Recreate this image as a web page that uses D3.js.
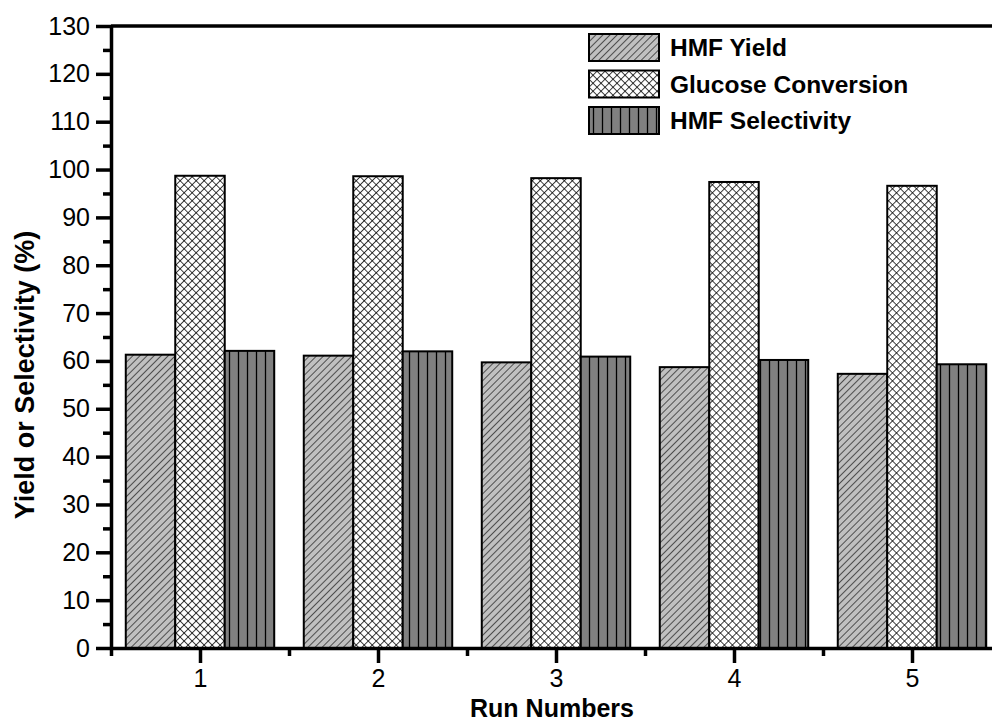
<!DOCTYPE html>
<html>
<head>
<meta charset="utf-8">
<script src="https://cdn.jsdelivr.net/npm/d3@7"></script>
<style>
  body { margin: 0; background: #fff; }
  text { font-family: "Liberation Sans", Arial, sans-serif; }
</style>
</head>
<body>
<div id="chart"></div>
<script>
(function () {
    var width = 992,
        height = 723;

    // data
    var runs = [1, 2, 3, 4, 5];
    var hmfYield = [61.3, 61.1, 59.7, 58.7, 57.3];
    var glucoseConversion = [98.7, 98.6, 98.2, 97.4, 96.6];
    var hmfSelectivity = [62.1, 62.0, 60.9, 60.2, 59.3];
    var seriesNames = ["HMF Yield", "Glucose Conversion", "HMF Selectivity"];
    var yTicks = d3.range(0, 131, 10);

    var series = [
        { name: seriesNames[0], values: hmfYield, fill: "url(#diag)" },
        { name: seriesNames[1], values: glucoseConversion, fill: "url(#cross)" },
        { name: seriesNames[2], values: hmfSelectivity, fill: "url(#vert)" }
    ];

    var left = 111, top = 26, bottom = 648;

    var svg = d3.select("#chart")
        .append("svg")
        .attr("width", width)
        .attr("height", height);

    // hatch patterns
    var defs = svg.append("defs");

    var p1 = defs.append("pattern")
        .attr("id", "diag")
        .attr("patternUnits", "userSpaceOnUse")
        .attr("width", 5).attr("height", 5)
        .attr("patternTransform", "rotate(45)");
    p1.append("rect").attr("width", 5).attr("height", 5).attr("fill", "#c0c0c0");
    p1.append("line").attr("x1", 0).attr("y1", 0).attr("x2", 0).attr("y2", 5)
        .attr("stroke", "#000").attr("stroke-width", 1.2);

    var p2 = defs.append("pattern")
        .attr("id", "cross")
        .attr("patternUnits", "userSpaceOnUse")
        .attr("width", 5.66).attr("height", 5.66)
        .attr("patternTransform", "rotate(45)");
    p2.append("rect").attr("width", 5.66).attr("height", 5.66).attr("fill", "#fff");
    p2.append("line").attr("x1", 0).attr("y1", 0).attr("x2", 0).attr("y2", 5.66)
        .attr("stroke", "#000").attr("stroke-width", 1.5);
    p2.append("line").attr("x1", 0).attr("y1", 0).attr("x2", 5.66).attr("y2", 0)
        .attr("stroke", "#000").attr("stroke-width", 1.5);

    var p3 = defs.append("pattern")
        .attr("id", "vert")
        .attr("patternUnits", "userSpaceOnUse")
        .attr("width", 9).attr("height", 9);
    p3.append("rect").attr("width", 9).attr("height", 9).attr("fill", "#808080");
    p3.append("line").attr("x1", 4.5).attr("y1", 0).attr("x2", 4.5).attr("y2", 9)
        .attr("stroke", "#000").attr("stroke-width", 1.3);

    var x = d3.scaleLinear().domain([0.5, 5.5]).range([left, left + 5 * 178]);
    var y = d3.scaleLinear().domain([0, 130]).range([bottom, top]);
    var bw = 0.278;

    // bars
    series.forEach(function (s, i) {
        svg.append("g").selectAll("rect")
            .data(s.values)
            .enter().append("rect")
            .attr("x", function (d, j) { return x(runs[j] + (i - 1.5) * bw); })
            .attr("width", x(bw) - x(0))
            .attr("y", function (d) { return y(d); })
            .attr("height", function (d) { return y(0) - y(d); })
            .attr("fill", s.fill)
            .attr("stroke", "#000")
            .attr("stroke-width", 2);
    });

    // top frame line
    svg.append("line")
        .attr("x1", left).attr("x2", width)
        .attr("y1", top).attr("y2", top)
        .attr("stroke", "#000").attr("stroke-width", 3.5);

    // y axis minor ticks
    svg.append("g")
        .attr("transform", "translate(" + left + ",0)")
        .call(d3.axisLeft(y).tickValues(d3.range(5, 130, 10)).tickSize(8).tickFormat(""))
        .call(function (g) { g.select(".domain").remove(); })
        .selectAll("line").attr("stroke-width", 3.5);

    // y axis
    var yAxis = svg.append("g")
        .attr("transform", "translate(" + left + ",0)")
        .call(d3.axisLeft(y).tickValues(yTicks).tickSize(15).tickSizeOuter(0).tickPadding(6));
    yAxis.select(".domain").attr("stroke-width", 3.5);
    yAxis.selectAll(".tick line").attr("stroke-width", 3.5);
    yAxis.selectAll("text").attr("font-size", 25).attr("fill", "#000")
        .style("font-family", "'Liberation Sans', Arial, sans-serif");

    // x axis minor ticks
    svg.append("g")
        .attr("transform", "translate(0," + bottom + ")")
        .call(d3.axisBottom(x).tickValues([0.5, 1.5, 2.5, 3.5, 4.5, 5.5]).tickSize(8).tickFormat(""))
        .call(function (g) { g.select(".domain").remove(); })
        .selectAll("line").attr("stroke-width", 3.5);

    // x axis
    var xAxis = svg.append("g")
        .attr("transform", "translate(0," + bottom + ")")
        .call(d3.axisBottom(x).tickValues(runs).tickSize(15).tickSizeOuter(0).tickPadding(6).tickFormat(d3.format("d")));
    xAxis.select(".domain").attr("stroke-width", 3.5);
    xAxis.selectAll(".tick line").attr("stroke-width", 3.5);
    xAxis.selectAll("text").attr("font-size", 25).attr("fill", "#000")
        .style("font-family", "'Liberation Sans', Arial, sans-serif");

    // axis titles
    svg.append("text")
        .attr("x", 552).attr("y", 717)
        .attr("text-anchor", "middle")
        .attr("font-size", 25).attr("font-weight", "bold")
        .text("Run Numbers");

    svg.append("text")
        .attr("transform", "translate(34,375) rotate(-90)")
        .attr("text-anchor", "middle")
        .attr("font-size", 27).attr("font-weight", "bold")
        .text("Yield or Selectivity (%)");

    // legend
    var legend = svg.append("g").attr("transform", "translate(589,34)");
    var item = legend.selectAll("g")
        .data(series)
        .enter().append("g")
        .attr("transform", function (d, i) { return "translate(0," + i * 36.5 + ")"; });
    item.append("rect")
        .attr("width", 70).attr("height", 27)
        .attr("fill", function (d) { return d.fill; })
        .attr("stroke", "#000").attr("stroke-width", 2);
    item.append("text")
        .attr("x", 81).attr("y", 22)
        .attr("font-size", 24.5).attr("font-weight", "bold")
        .text(function (d) { return d.name; });
})();
</script>
</body>
</html>
